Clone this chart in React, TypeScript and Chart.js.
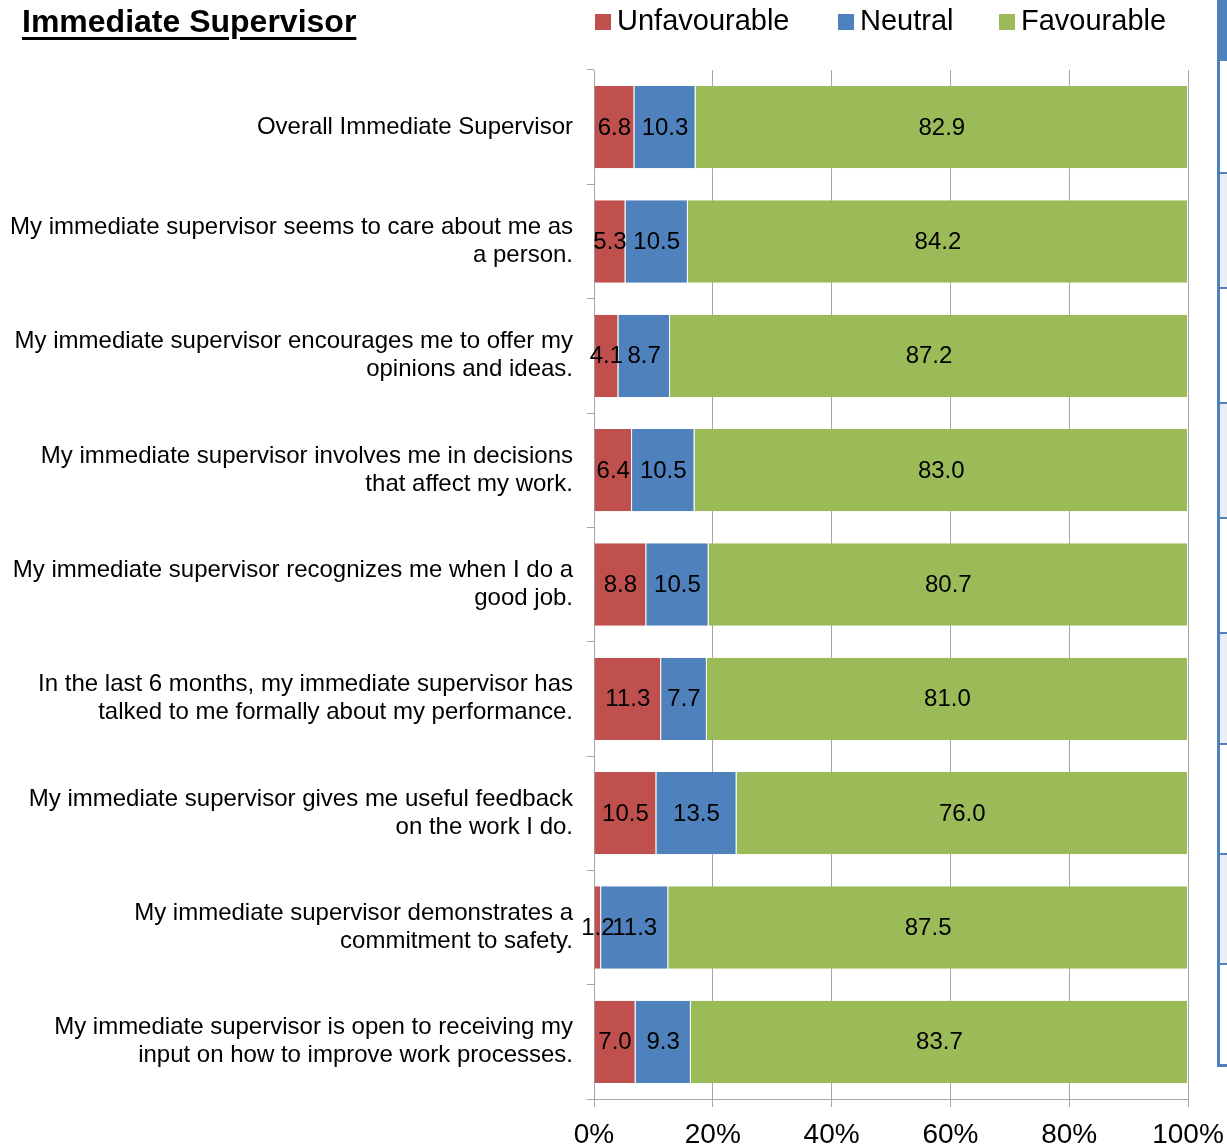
import React, { useEffect, useRef } from "react";
import { Chart, registerables } from "chart.js";

Chart.register(...registerables);

const TITLE = "Immediate Supervisor";

const categories: (string | string[])[] = [
  "Overall Immediate Supervisor",
  ["My immediate supervisor seems to care about me as", "a person."],
  ["My immediate supervisor encourages me to offer my", "opinions and ideas."],
  ["My immediate supervisor involves me in decisions", "that affect my work."],
  ["My immediate supervisor recognizes me when I do a", "good job."],
  ["In the last 6 months, my immediate supervisor has", "talked to me formally about my performance."],
  ["My immediate supervisor gives me useful feedback", "on the work I do."],
  ["My immediate supervisor demonstrates a", "commitment to safety."],
  ["My immediate supervisor is open to receiving my", "input on how to improve work processes."],
];

const unfavourable = [6.8, 5.3, 4.1, 6.4, 8.8, 11.3, 10.5, 1.2, 7.0];
const neutral = [10.3, 10.5, 8.7, 10.5, 10.5, 7.7, 13.5, 11.3, 9.3];
const favourable = [82.9, 84.2, 87.2, 83.0, 80.7, 81.0, 76.0, 87.5, 83.7];

const seriesNames = ["Unfavourable", "Neutral", "Favourable"];
const seriesColors = ["#C0504D", "#4F81BD", "#9BBB59"];

const xTicks = [0, 20, 40, 60, 80, 100];

const FONT = "'Liberation Sans', Arial, sans-serif";
const GRID = "#A6A6A6";

const rawSeries = [unfavourable, neutral, favourable];
const totals = categories.map((_, i) => rawSeries.reduce((s, arr) => s + arr[i], 0));

const dataLabelPlugin = {
  id: "dataLabels",
  afterDatasetsDraw(chart: any) {
    const ctx = chart.ctx;
    ctx.save();
    ctx.font = `24px ${FONT}`;
    ctx.fillStyle = "#000";
    ctx.textAlign = "center";
    ctx.textBaseline = "middle";
    chart.data.datasets.forEach((ds: any, di: number) => {
      const meta = chart.getDatasetMeta(di);
      meta.data.forEach((bar: any, i: number) => {
        const cx = (bar.x + bar.base) / 2;
        ctx.fillText(ds.raw[i].toFixed(1), cx, bar.y + 1);
      });
    });
    ctx.restore();
  },
};

const legendLefts = [595, 838, 999];
const panelRows = [61, 172, 287, 402, 517, 632, 743, 853, 963, 1065];

export default function App() {
  const ref = useRef<HTMLCanvasElement | null>(null);

  useEffect(() => {
    if (!ref.current) return;
    const chart = new Chart(ref.current, {
      type: "bar",
      data: {
        labels: categories,
        datasets: rawSeries.map((arr, si) => ({
          label: seriesNames[si],
          data: arr.map((v, i) => (v / totals[i]) * 100),
          raw: arr,
          backgroundColor: seriesColors[si],
          borderColor: "rgba(255,255,255,0.55)",
          borderWidth: { top: 0, bottom: 0, left: 0, right: 1 },
          borderSkipped: false,
          categoryPercentage: 1,
          barPercentage: 0.72,
        })) as any,
      },
      options: {
        indexAxis: "y",
        responsive: false,
        animation: false,
        devicePixelRatio: 1,
        layout: { padding: { top: 70, right: 39, left: 0, bottom: 0 } },
        plugins: {
          legend: { display: false },
          title: { display: false },
          tooltip: { enabled: false },
        },
        scales: {
          x: {
            type: "linear",
            stacked: true,
            min: 0,
            max: 100,
            afterBuildTicks: (scale: any) => {
              scale.ticks = xTicks.map((v) => ({ value: v }));
            },
            afterFit: (scale: any) => {
              scale.height = 48;
              scale.paddingLeft = 0;
              scale.paddingRight = 0;
            },
            ticks: {
              callback: (v: any) => `${v}%`,
              color: "#000",
              font: { family: FONT, size: 28, lineHeight: 1.2 },
              padding: 11,
              maxRotation: 0,
            },
            grid: { color: GRID, lineWidth: 1, tickLength: 8, drawTicks: true },
            border: { color: GRID, width: 1 },
          },
          y: {
            type: "category",
            stacked: true,
            afterFit: (scale: any) => {
              scale.width = 594;
              scale.paddingTop = 0;
              scale.paddingBottom = 0;
            },
            ticks: {
              color: "#000",
              font: { family: FONT, size: 24, lineHeight: 1.17 },
              padding: 14,
              autoSkip: false,
            },
            grid: { offset: true, drawOnChartArea: false, color: GRID, tickLength: 7 },
            border: { color: GRID, width: 1 },
          },
        },
      },
      plugins: [dataLabelPlugin],
    } as any);
    return () => chart.destroy();
  }, []);

  return (
    <div style={{ position: "absolute", left: 0, top: 0, width: 1227, height: 1147, background: "#fff", overflow: "hidden" }}>
      <canvas ref={ref} width={1227} height={1147} style={{ position: "absolute", left: 0, top: 0, width: 1227, height: 1147 }} />
      <div
        style={{
          position: "absolute",
          left: 22,
          top: 5,
          fontFamily: FONT,
          fontWeight: "bold",
          fontSize: 32,
          lineHeight: "32px",
          color: "#000",
          textDecoration: "underline",
          textUnderlineOffset: "5px",
          textDecorationThickness: "3px",
          whiteSpace: "nowrap",
        }}
      >
        {TITLE}
      </div>
      {seriesNames.map((name, i) => (
        <div key={name} style={{ position: "absolute", left: legendLefts[i], top: 6, height: 28, whiteSpace: "nowrap" }}>
          <div style={{ position: "absolute", left: 0, top: 8, width: 16, height: 16, background: seriesColors[i] }} />
          <div style={{ position: "absolute", left: 22, top: 0, fontFamily: FONT, fontSize: 29, lineHeight: "28px", color: "#000" }}>{name}</div>
        </div>
      ))}
      {/* right-hand table panel fragment */}
      <div style={{ position: "absolute", left: 1217, top: 0, width: 10, height: 61, background: "#4F81BD" }} />
      {panelRows.slice(0, -1).map((y, i) => (
        <div
          key={y}
          style={{
            position: "absolute",
            left: 1217,
            top: y,
            width: 10,
            height: panelRows[i + 1] - y,
            background: i % 2 === 1 ? "#E9EDF4" : "#FFFFFF",
            borderTop: i > 0 ? "2px solid #4F81BD" : "none",
            boxSizing: "border-box",
          }}
        />
      ))}
      <div style={{ position: "absolute", left: 1217, top: 0, width: 3, height: 1067, background: "#4F81BD" }} />
      <div style={{ position: "absolute", left: 1217, top: 1064, width: 10, height: 3, background: "#4F81BD" }} />
    </div>
  );
}
